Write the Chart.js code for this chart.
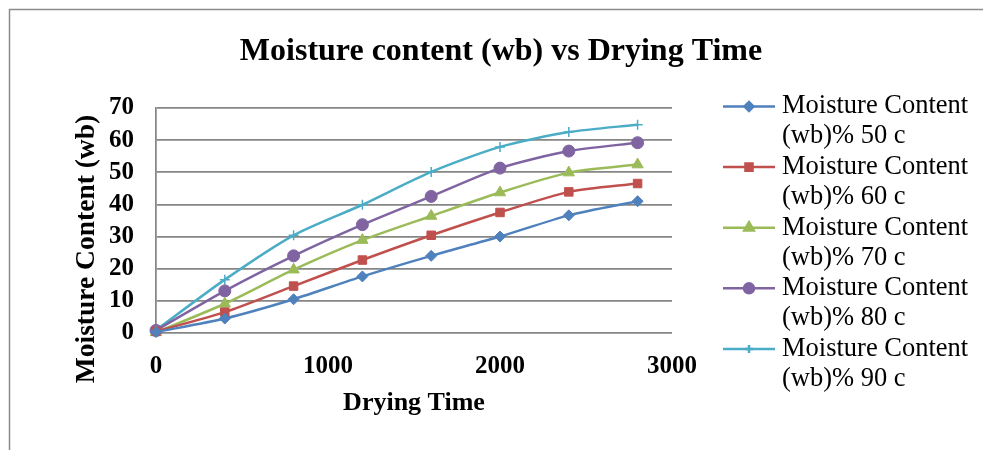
<!DOCTYPE html>
<html>
<head>
<meta charset="utf-8">
<script src="https://cdn.jsdelivr.net/npm/chart.js@4.4.0/dist/chart.umd.min.js"></script>
<style>
  html, body { margin: 0; padding: 0; background: #fff; }
  #wrap { width: 983px; height: 450px; position: relative; }
</style>
</head>
<body>
<div id="wrap"><canvas id="dryChart" width="983" height="450"></canvas></div>
<script>
// drying time (x) and moisture content (wb)% at each temperature
const dryingTimes = [0, 400, 800, 1200, 1600, 2000, 2400, 2800];
const mc50 = [0.3, 4.5, 10.5, 17.6, 24.0, 30.0, 36.6, 41.0];
const mc60 = [0.5, 6.5, 14.6, 22.7, 30.4, 37.5, 43.9, 46.5];
const mc70 = [0.2, 9.1, 19.7, 28.9, 36.4, 43.7, 49.9, 52.4];
const mc80 = [0.8, 13.1, 24.0, 33.7, 42.5, 51.3, 56.6, 59.2];
const mc90 = [0.9, 16.6, 30.4, 39.9, 50.1, 57.9, 62.5, 64.8];
const seriesNames = ['Moisture Content (wb)% 50 c', 'Moisture Content (wb)% 60 c',
  'Moisture Content (wb)% 70 c', 'Moisture Content (wb)% 80 c', 'Moisture Content (wb)% 90 c'];
const chartTitle = 'Moisture content (wb) vs Drying Time';
const yTitle = 'Moisture Content (wb)';

const serif = "'Liberation Serif', 'Times New Roman', serif";
const colors = ['#4F81BD', '#C0504D', '#9BBB59', '#8064A2', '#4BACC6'];
const markers = ['rectRot', 'rect', 'triangle', 'circle', 'cross'];
const radii = [5.5, 6, 6.5, 6, 5];

function toPoints(vals) {
  return dryingTimes.map((t, i) => ({ x: t, y: vals[i] }));
}

const allSeries = [mc50, mc60, mc70, mc80, mc90];
const datasets = allSeries.map((vals, i) => ({
  label: seriesNames[i],
  data: toPoints(vals),
  borderColor: colors[i],
  backgroundColor: colors[i],
  borderWidth: 2.5,
  pointStyle: markers[i],
  pointRadius: radii[i],
  pointBorderWidth: markers[i] === 'cross' ? 1.5 : 1,
  tension: 0.25,
  clip: false
}));

// frame, title, y title and the wrapped legend drawn by hand
const decorPlugin = {
  id: 'decor',
  beforeDraw(chart) {
    const c = chart.ctx;
    c.save();
    c.fillStyle = '#fff';
    c.fillRect(0, 0, chart.width, chart.height);
    c.strokeStyle = '#8c8c8c';
    c.lineWidth = 1.5;
    c.strokeRect(9.5, 9.5, chart.width + 20, chart.height + 20);
    c.restore();
  },
  afterDraw(chart) {
    const c = chart.ctx;
    c.save();
    c.fillStyle = '#000';
    c.font = 'bold 32px ' + serif;
    c.textAlign = 'center';
    c.textBaseline = 'middle';
    c.fillText(chartTitle, 501, 52);

    c.save();
    c.translate(87, 249);
    c.rotate(-Math.PI / 2);
    c.font = 'bold 27.5px ' + serif;
    c.fillText(yTitle, 0, 0);
    c.restore();

    c.font = '26.5px ' + serif;
    c.textAlign = 'left';
    chart.data.datasets.forEach((ds, i) => {
      const y = 106.5 + i * 60.6;
      c.strokeStyle = ds.borderColor;
      c.lineWidth = 2.5;
      c.beginPath();
      c.moveTo(723, y);
      c.lineTo(775, y);
      c.stroke();
      Chart.helpers.drawPoint(c, {
        pointStyle: ds.pointStyle, radius: ds.pointRadius - 1, borderWidth: 1
      }, 749, y);
      c.fillStyle = ds.borderColor;
      c.fill();
      c.fillStyle = '#000';
      const parts = ds.label.split(' (');
      c.fillText(parts[0], 782, y);
      c.fillText('(' + parts[1], 782, y + 30);
    });
    c.restore();
  }
};

const ctx = document.getElementById('dryChart').getContext('2d');
const dryChart = new Chart(ctx, {
  type: 'line',
  data: { datasets: datasets },
  plugins: [decorPlugin],
  options: {
    responsive: false,
    animation: false,
    layout: { padding: { left: 0, right: 311, top: 108, bottom: 0 } },
    plugins: {
      legend: { display: false },
      title: { display: false },
      tooltip: { enabled: false }
    },
    scales: {
      x: {
        type: 'linear',
        min: 0,
        max: 3000,
        ticks: {
          stepSize: 1000,
          padding: 19,
          autoSkip: false,
          color: '#000',
          font: { family: serif, size: 25, weight: 'bold' },
          callback: (v) => String(v)
        },
        grid: { display: false, drawTicks: false },
        border: { display: false },
        title: {
          display: true,
          text: 'Drying Time',
          color: '#000',
          font: { family: serif, size: 26, weight: 'bold' },
          padding: { top: 0, bottom: 31 }
        },
        afterFit(scale) { scale.height = 117; }
      },
      y: {
        min: 0,
        max: 70,
        ticks: {
          stepSize: 10,
          padding: 22,
          autoSkip: false,
          color: '#000',
          font: { family: serif, size: 25, weight: 'bold', lineHeight: 1 }
        },
        grid: { color: '#868686', lineWidth: 1.75, drawTicks: false },
        border: { display: true, color: '#868686', width: 1.75 },
        afterFit(scale) { scale.width = 156; }
      }
    }
  }
});
</script>
</body>
</html>
